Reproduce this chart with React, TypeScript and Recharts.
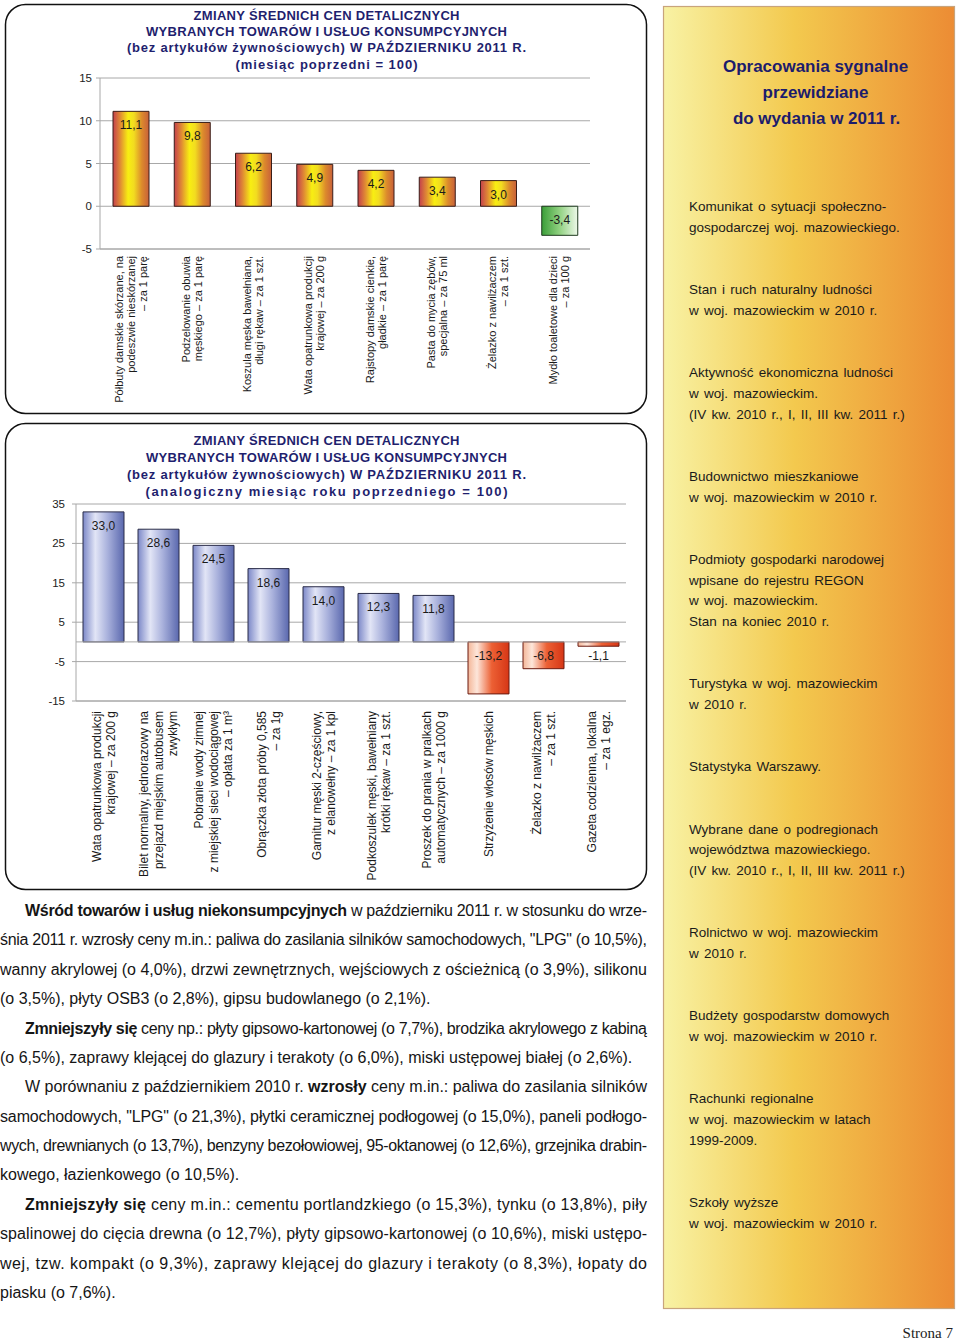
import {
  Bar,
  BarChart,
  CartesianGrid,
  Cell,
  LabelList,
  ReferenceLine,
  XAxis,
  YAxis,
} from "recharts";

const CZCIONKA = "'Liberation Sans', Arial, Helvetica, sans-serif";
const KOLOR_SIATKI = "#a8a8a8";
const GRANAT = "#1f1f6e";

// wykres 1 – miesiąc poprzedni = 100
const KATEGORIE_MIESIAC = [
  "Półbuty damskie skórzane, na\npodeszwie nieskórzanej\n– za 1 parę",
  "Podzelowanie obuwia\nmęskiego – za 1 parę",
  "Koszula męska bawełniana,\ndługi rękaw – za 1 szt.",
  "Wata opatrunkowa produkcji\nkrajowej – za 200 g",
  "Rajstopy damskie cienkie,\ngładkie – za 1 parę",
  "Pasta do mycia zębów,\nspecjalna – za 75 ml",
  "Żelazko z nawilżaczem\n– za 1 szt.",
  "Mydło toaletowe dla dzieci\n– za 100 g",
];
const ZMIANY_MIESIAC = [11.1, 9.8, 6.2, 4.9, 4.2, 3.4, 3.0, -3.4];
const TICKI_MIESIAC = [-5, 0, 5, 10, 15];

// wykres 2 – analogiczny miesiąc roku poprzedniego = 100
const KATEGORIE_ROK = [
  "Wata opatrunkowa produkcji\nkrajowej – za 200 g",
  "Bilet normalny, jednorazowy na\nprzejazd miejskim autobusem\nzwykłym",
  "Pobranie wody zimnej\nz miejskiej sieci wodociągowej\n– opłata za 1 m³",
  "Obrączka złota próby 0,585\n– za 1g",
  "Garnitur męski 2-częściowy,\nz elanowełny – za 1 kpl",
  "Podkoszulek męski, bawełniany\nkrótki rękaw – za 1 szt.",
  "Proszek do prania w pralkach\nautomatycznych – za 1000 g",
  "Strzyżenie włosów męskich",
  "Żelazko z nawilżaczem\n– za 1 szt.",
  "Gazeta codzienna, lokalna\n– za 1 egz.",
];
const ZMIANY_ROK = [33.0, 28.6, 24.5, 18.6, 14.0, 12.3, 11.8, -13.2, -6.8, -1.1];
const TICKI_ROK = [-15, -5, 5, 15, 25, 35];

const TYTUL_MIESIAC = [
  "ZMIANY ŚREDNICH CEN DETALICZNYCH",
  "WYBRANYCH TOWARÓW I USŁUG KONSUMPCYJNYCH",
  "(bez artykułów żywnościowych) W PAŹDZIERNIKU 2011 R.",
  "(miesiąc poprzedni = 100)",
];
const TYTUL_ROK = [
  "ZMIANY ŚREDNICH CEN DETALICZNYCH",
  "WYBRANYCH TOWARÓW I USŁUG KONSUMPCYJNYCH",
  "(bez artykułów żywnościowych) W PAŹDZIERNIKU 2011 R.",
  "(analogiczny miesiąc roku poprzedniego = 100)",
];

const PANEL_LINIE = [
  "Komunikat o sytuacji społeczno-",
  "gospodarczej woj. mazowieckiego.",
  "",
  "",
  "Stan i ruch naturalny ludności",
  "w woj. mazowieckim w 2010 r.",
  "",
  "",
  "Aktywność ekonomiczna ludności",
  "w woj. mazowieckim.",
  "(IV kw. 2010 r., I, II, III kw. 2011 r.)",
  "",
  "",
  "Budownictwo mieszkaniowe",
  "w woj. mazowieckim w 2010 r.",
  "",
  "",
  "Podmioty gospodarki narodowej",
  "wpisane do rejestru REGON",
  "w woj. mazowieckim.",
  "Stan na koniec 2010 r.",
  "",
  "",
  "Turystyka w woj. mazowieckim",
  "w 2010 r.",
  "",
  "",
  "Statystyka  Warszawy.",
  "",
  "",
  "Wybrane dane o podregionach",
  "województwa mazowieckiego.",
  "(IV kw. 2010 r., I, II, III kw. 2011 r.)",
  "",
  "",
  "Rolnictwo w woj. mazowieckim",
  "w 2010 r.",
  "",
  "",
  "Budżety gospodarstw domowych",
  "w woj. mazowieckim w 2010 r.",
  "",
  "",
  "Rachunki regionalne",
  "w woj. mazowieckim w latach",
  "1999-2009.",
  "",
  "",
  "Szkoły wyższe",
  "w woj. mazowieckim w 2010 r.",
];

// [wcięcie, wyjustowana, fragmenty: [pogrubiony, tekst]]
type LiniaTekstu = [number, boolean, [boolean, string][]];
const TEKST: LiniaTekstu[] = [
  [25, true, [[true, "Wśród towarów i usług niekonsumpcyjnych"], [false, " w październiku 2011 r. w stosunku do wrze-"]]],
  [0, true, [[false, "śnia 2011 r. wzrosły ceny m.in.: paliwa do zasilania silników samochodowych, \"LPG\" (o 10,5%),"]]],
  [0, true, [[false, "wanny akrylowej (o 4,0%), drzwi zewnętrznych, wejściowych z ościeżnicą (o 3,9%), silikonu"]]],
  [0, false, [[false, "(o 3,5%), płyty OSB3 (o 2,8%), gipsu budowlanego (o 2,1%)."]]],
  [25, true, [[true, "Zmniejszyły się"], [false, " ceny np.: płyty gipsowo-kartonowej (o 7,7%), brodzika akrylowego z kabiną"]]],
  [0, false, [[false, "(o 6,5%), zaprawy klejącej do glazury i terakoty (o 6,0%), miski ustępowej białej (o 2,6%)."]]],
  [25, true, [[false, "W porównaniu z październikiem 2010 r. "], [true, "wzrosły"], [false, " ceny m.in.: paliwa do zasilania silników"]]],
  [0, true, [[false, "samochodowych, \"LPG\" (o 21,3%), płytki ceramicznej podłogowej (o 15,0%), paneli podłogo-"]]],
  [0, true, [[false, "wych, drewnianych (o 13,7%), benzyny bezołowiowej, 95-oktanowej (o 12,6%), grzejnika drabin-"]]],
  [0, false, [[false, "kowego, łazienkowego (o 10,5%)."]]],
  [25, true, [[true, "Zmniejszyły się"], [false, " ceny m.in.: cementu portlandzkiego (o 15,3%), tynku (o 13,8%), piły"]]],
  [0, true, [[false, "spalinowej do cięcia drewna (o 12,7%), płyty gipsowo-kartonowej (o 10,6%), miski ustępo-"]]],
  [0, true, [[false, "wej, tzw. kompakt (o 9,3%), zaprawy klejącej do glazury i terakoty (o 8,3%), łopaty do"]]],
  [0, false, [[false, "piasku (o 7,6%)."]]],
];

const formatuj = (v: number) => v.toFixed(1).replace(".", ",");

function TickKategorii(props: any) {
  const { x, y, payload, odstep, linia, rozmiar } = props;
  const linie = String(payload.value).split("\n");
  return (
    <text
      transform={`translate(${x},${y + odstep}) rotate(-90)`}
      textAnchor="end"
      fontSize={rozmiar}
      fill="#1a1a1a"
    >
      {linie.map((tekst, i) => (
        <tspan key={i} x={0} y={(i - (linie.length - 1) / 2) * linia + rozmiar * 0.36}>
          {tekst}
        </tspan>
      ))}
    </text>
  );
}

function EtykietaWartosci(props: any) {
  const box = props.viewBox ?? props;
  const x = Number(box.x);
  const y = Number(box.y);
  const w = Number(box.width);
  const h = Number(box.height);
  const gora = Math.min(y, y + h);
  return (
    <text x={x + w / 2} y={gora + 14} textAnchor="middle" dominantBaseline="central" fontSize={12} fill="#1a1a1a">
      {formatuj(Number(props.value))}
    </text>
  );
}

type Wykres = {
  kategorie: string[];
  zmiany: number[];
  ticki: number[];
  szerokosc: number;
  wysokosc: number;
  gora: number;
  prawo: number;
  osY: number;
  osX: number;
  odstepTicka: number;
  slupek: number;
  plus: [string, string];
  minus: [string, string];
  odstepEtykiety: number;
  liniaEtykiety: number;
  rozmiarEtykiety: number;
  liniaZero: boolean;
};

function WykresCen(p: Wykres) {
  const dane = p.kategorie.map((nazwa, i) => ({ nazwa, zmiana: p.zmiany[i] }));
  const domena: [number, number] = [p.ticki[0], p.ticki[p.ticki.length - 1]];
  return (
    <BarChart
      width={p.szerokosc}
      height={p.wysokosc}
      data={dane}
      margin={{ top: p.gora, right: p.prawo, bottom: 0, left: 0 }}
    >
      <CartesianGrid vertical={false} stroke={KOLOR_SIATKI} />
      <XAxis
        dataKey="nazwa"
        interval={0}
        height={p.osX}
        tickLine={false}
        tickSize={0}
        tickMargin={0}
        axisLine={{ stroke: KOLOR_SIATKI }}
        tick={(t: any) => (
          <TickKategorii
            {...t}
            odstep={p.odstepEtykiety}
            linia={p.liniaEtykiety}
            rozmiar={p.rozmiarEtykiety}
          />
        )}
      />
      <YAxis
        domain={domena}
        ticks={p.ticki}
        interval={0}
        width={p.osY}
        tickSize={4}
        tickMargin={p.odstepTicka}
        tickLine={{ stroke: KOLOR_SIATKI }}
        axisLine={{ stroke: KOLOR_SIATKI }}
        tick={{ fill: "#222", fontSize: 11.5 }}
      />
      <YAxis
        yAxisId="ramka"
        orientation="right"
        width={0}
        domain={domena}
        ticks={p.ticki}
        tick={false}
        tickLine={false}
        axisLine={{ stroke: KOLOR_SIATKI }}
      />
      {p.liniaZero && <ReferenceLine y={0} stroke={KOLOR_SIATKI} />}
      <Bar dataKey="zmiana" barSize={p.slupek} isAnimationActive={false}>
        {dane.map((d) => (
          <Cell
            key={d.nazwa}
            fill={d.zmiana >= 0 ? p.plus[0] : p.minus[0]}
            stroke={d.zmiana >= 0 ? p.plus[1] : p.minus[1]}
            strokeWidth={1}
          />
        ))}
        <LabelList dataKey="zmiana" content={EtykietaWartosci} />
      </Bar>
    </BarChart>
  );
}

function Tytul({ linie, y, dlugosci }: { linie: string[]; y: number[]; dlugosci: number[] }) {
  return (
    <g fontFamily={CZCIONKA} fontWeight="bold" fontSize={13} fill={GRANAT} textAnchor="middle">
      {linie.map((l, i) => (
        <text
          key={i}
          x={326.5}
          y={y[i]}
          textLength={dlugosci[i]}
          lengthAdjust="spacing"
          style={{ whiteSpace: "pre" }}
        >
          {l}
        </text>
      ))}
    </g>
  );
}

export default function App() {
  return (
    <div
      style={{
        position: "absolute",
        left: 0,
        top: 0,
        width: 960,
        height: 1342,
        background: "#fff",
        overflow: "hidden",
        fontFamily: CZCIONKA,
      }}
    >
      <svg width={960} height={1342} style={{ position: "absolute", left: 0, top: 0 }}>
        <defs>
          <linearGradient id="gradPanel" x1="0" x2="1" y1="0" y2="0">
            <stop offset="0" stopColor="#f8f2a4" />
            <stop offset="0.45" stopColor="#f3c94e" />
            <stop offset="1" stopColor="#ec8c34" />
          </linearGradient>
          <linearGradient id="gradZolty" x1="0" x2="1" y1="0" y2="0">
            <stop offset="0" stopColor="#c4404c" />
            <stop offset="0.2" stopColor="#e08a34" />
            <stop offset="0.42" stopColor="#f8ee12" />
            <stop offset="0.58" stopColor="#f2dc20" />
            <stop offset="0.8" stopColor="#dc8a2c" />
            <stop offset="1" stopColor="#c8603a" />
          </linearGradient>
          <linearGradient id="gradZielony" x1="0" x2="1" y1="0" y2="0">
            <stop offset="0" stopColor="#3a9e38" />
            <stop offset="0.5" stopColor="#92d282" />
            <stop offset="1" stopColor="#eef8ea" />
          </linearGradient>
          <linearGradient id="gradNiebieski" x1="0" x2="1" y1="0" y2="0">
            <stop offset="0" stopColor="#7c88c8" />
            <stop offset="0.3" stopColor="#e2e5f6" />
            <stop offset="0.6" stopColor="#a9b1dc" />
            <stop offset="1" stopColor="#5a68ae" />
          </linearGradient>
          <linearGradient id="gradCzerwony" x1="0" x2="1" y1="0" y2="0">
            <stop offset="0" stopColor="#f4b698" />
            <stop offset="0.22" stopColor="#fde6da" />
            <stop offset="0.58" stopColor="#ec6034" />
            <stop offset="1" stopColor="#d63616" />
          </linearGradient>
        </defs>

        {/* ramki wykresów */}
        <rect x={5.5} y={4.5} width={641} height={409} rx={20} fill="#fff" stroke="#111" strokeWidth={1.5} />
        <rect x={5.5} y={423.5} width={641} height={466} rx={20} fill="#fff" stroke="#111" strokeWidth={1.5} />
        <Tytul linie={TYTUL_MIESIAC} y={[19.5, 35.5, 52, 68.5]} dlugosci={[266, 361, 399, 182]} />
        <Tytul linie={TYTUL_ROK} y={[444.5, 461.5, 478.5, 495.5]} dlugosci={[266, 361, 399, 362]} />

        {/* panel boczny */}
        <rect x={663.5} y={6.5} width={291} height={1302} fill="url(#gradPanel)" stroke="#c8a47c" strokeWidth={1.2} />
        <g fontFamily={CZCIONKA} fontWeight="bold" fontSize={17} fill="#1c1c6c" textAnchor="middle">
          <text x={815.5} y={72}>Opracowania sygnalne</text>
          <text x={815.5} y={98}>przewidziane</text>
          <text x={816.5} y={124}>do wydania w 2011 r.</text>
        </g>
        <g fontFamily={CZCIONKA} fontSize={13.5} fill="#1a1a1a" style={{ whiteSpace: "pre", wordSpacing: 1.5 }}>
          {PANEL_LINIE.map((l, i) =>
            l ? (
              <text key={i} x={689} y={211 + i * 20.75}>
                {l}
              </text>
            ) : null,
          )}
        </g>

        {/* tekst pod wykresami */}
        <g fontFamily={CZCIONKA} fontSize={16} fill="#151515" style={{ whiteSpace: "pre" }}>
          {TEKST.map(([wciecie, justuj, czesci], i) => (
            <text
              key={i}
              x={wciecie}
              y={916 + i * 29.38}
              textLength={justuj ? 647 - wciecie : undefined}
              lengthAdjust="spacing"
            >
              {czesci.map(([pogrubiony, t], j) => (
                <tspan key={j} fontWeight={pogrubiony ? "bold" : "normal"}>
                  {t}
                </tspan>
              ))}
            </text>
          ))}
        </g>
        <text x={953} y={1338} textAnchor="end" fontFamily="'Liberation Serif', 'Times New Roman', serif" fontSize={15} fill="#222">
          Strona 7
        </text>
      </svg>

      <div style={{ position: "absolute", left: 5, top: 4, width: 642, height: 410 }}>
        <WykresCen
          kategorie={KATEGORIE_MIESIAC}
          zmiany={ZMIANY_MIESIAC}
          ticki={TICKI_MIESIAC}
          szerokosc={642}
          wysokosc={410}
          gora={74}
          prawo={57}
          osY={95}
          osX={165}
          odstepTicka={4}
          slupek={36}
          plus={["url(#gradZolty)", "#3a1e18"]}
          minus={["url(#gradZielony)", "#1e3a1e"]}
          odstepEtykiety={7}
          liniaEtykiety={12}
          rozmiarEtykiety={11}
          liniaZero={false}
        />
      </div>

      <div style={{ position: "absolute", left: 5, top: 423, width: 642, height: 467 }}>
        <WykresCen
          kategorie={KATEGORIE_ROK}
          zmiany={ZMIANY_ROK}
          ticki={TICKI_ROK}
          szerokosc={642}
          wysokosc={467}
          gora={81}
          prawo={21}
          osY={71}
          osX={189}
          odstepTicka={7}
          slupek={41}
          plus={["url(#gradNiebieski)", "#2a2c48"]}
          minus={["url(#gradCzerwony)", "#6a1a10"]}
          odstepEtykiety={10}
          liniaEtykiety={14.5}
          rozmiarEtykiety={12}
          liniaZero={true}
        />
      </div>
    </div>
  );
}
